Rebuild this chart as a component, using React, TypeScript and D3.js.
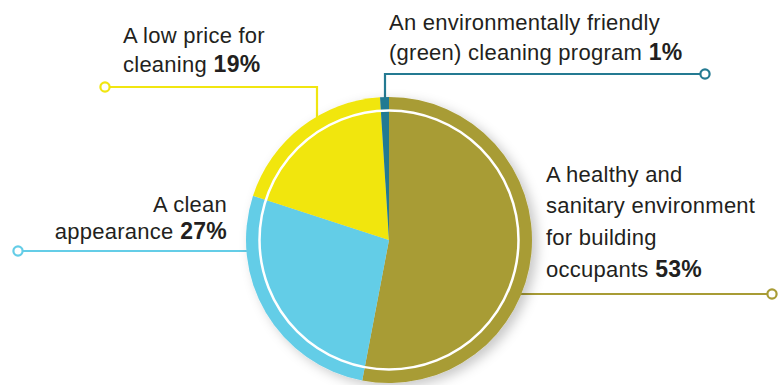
import React from "react";
import * as d3 from "d3";

const categories = [
  "A healthy and sanitary environment for building occupants",
  "A clean appearance",
  "A low price for cleaning",
  "An environmentally friendly (green) cleaning program",
];
const values = [53, 27, 19, 1];
const colors = ["#a89c35", "#64cde7", "#f1e610", "#247a92"];
const labelLines = [
  ["A healthy and", "sanitary environment", "for building", "occupants"],
  ["A clean", "appearance"],
  ["A low price for", "cleaning"],
  ["An environmentally friendly", "(green) cleaning program"],
];

const W = 779;
const H = 385;
const cx = 389;
const cy = 240;
const R = 143;

export default function App() {
  const pie = d3.pie<number>().sort(null).value((d) => d).startAngle(0).endAngle(2 * Math.PI);
  const arcs = pie(values);
  const arc = d3.arc<d3.PieArcDatum<number>>().innerRadius(0).outerRadius(R);

  const edgeXAtY = (y: number, side: number) => cx + side * Math.sqrt(R * R - (y - cy) * (y - cy));
  const edgeYAtX = (x: number) => cy - Math.sqrt(R * R - (x - cx) * (x - cx));

  const leaders = [
    {
      path: d3.line()([[edgeXAtY(294, 1) - 2, 294], [768, 294]]),
      dot: [772, 294],
      text: { x: 546, y0: 181.5, dy: 31.8, anchor: "start" },
    },
    {
      path: d3.line()([[22, 251], [edgeXAtY(251, -1) + 2, 251]]),
      dot: [18, 251],
      text: { x: 227, y0: 211.5, dy: 27, anchor: "end" },
    },
    {
      path: d3.line()([[110, 87], [317, 87], [317, edgeYAtX(317) + 2]]),
      dot: [105, 87],
      text: { x: 123, y0: 43, dy: 29, anchor: "start" },
    },
    {
      path: d3.line()([[385, edgeYAtX(385) + 3], [385, 74], [700, 74]]),
      dot: [705, 74],
      text: { x: 389, y0: 30, dy: 29.5, anchor: "start" },
    },
  ];

  const fontStyle = {
    fontFamily: "'Liberation Sans', Arial, Helvetica, sans-serif",
    fontSize: 22,
    letterSpacing: "0.25px",
    fill: "#231f20",
  } as React.CSSProperties;

  return (
    <svg
      width={W}
      height={H}
      viewBox={`0 0 ${W} ${H}`}
      style={{ position: "absolute", left: 0, top: 0, display: "block", background: "#fff" }}
    >
      <defs>
        <filter id="shadow" x="-20%" y="-20%" width="140%" height="140%">
          <feDropShadow dx="5" dy="4" stdDeviation="6" floodColor="#000" floodOpacity="0.22" />
        </filter>
      </defs>
      {leaders.map((l, i) => (
        <path key={"l" + i} d={l.path || ""} fill="none" stroke={colors[i]} strokeWidth={2.2} />
      ))}
      <g filter="url(#shadow)">
        {arcs.map((a, i) => (
          <path key={i} d={arc(a) || ""} transform={`translate(${cx},${cy})`} fill={colors[i]} />
        ))}
      </g>
      <circle cx={cx} cy={cy} r={129.5} fill="none" stroke="#fff" strokeWidth={2.5} />
      {leaders.map((l, i) => (
        <circle key={"d" + i} cx={l.dot[0]} cy={l.dot[1]} r={4.6} fill="#fff" stroke={colors[i]} strokeWidth={2.2} />
      ))}
      {leaders.map((l, i) => {
        const lines = labelLines[i];
        return (
          <text key={"t" + i} style={fontStyle} textAnchor={l.text.anchor as any}>
            {lines.map((ln, j) => (
              <tspan key={j} x={l.text.x} y={l.text.y0 + j * l.text.dy}>
                {ln}
                {j === lines.length - 1 ? (
                  <tspan fontWeight="bold" fontSize={23}>{" " + values[i] + "%"}</tspan>
                ) : null}
              </tspan>
            ))}
          </text>
        );
      })}
    </svg>
  );
}
